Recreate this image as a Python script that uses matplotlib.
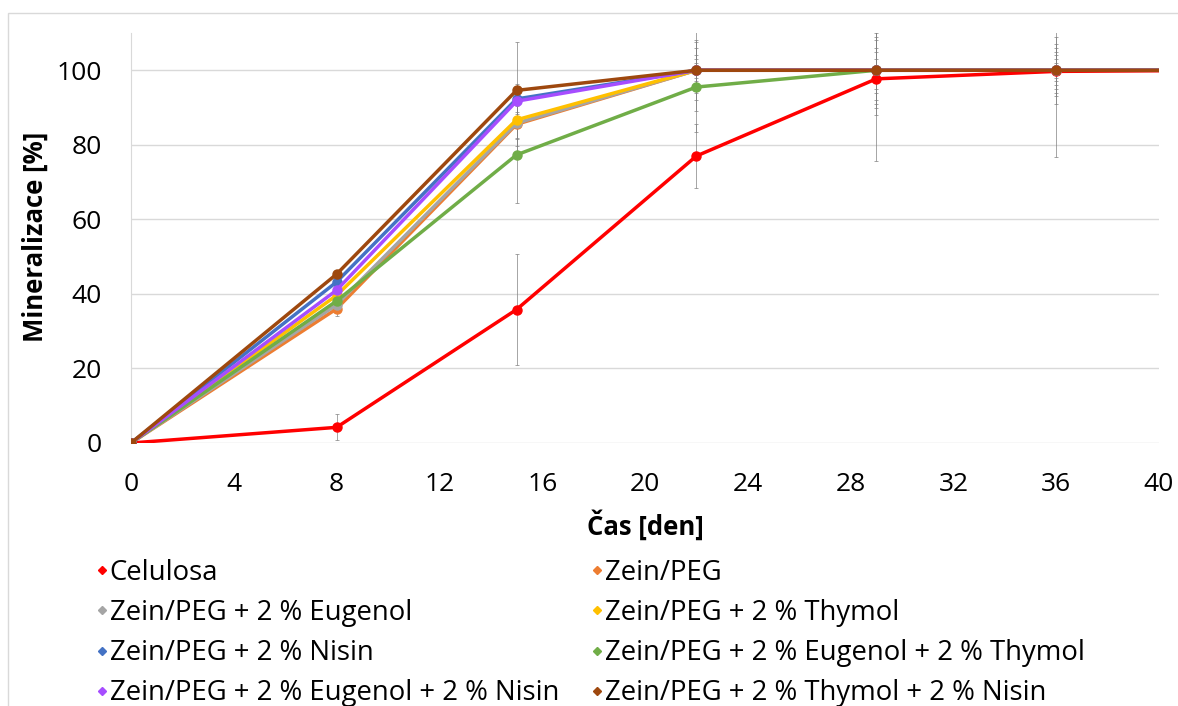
import matplotlib
matplotlib.use("Agg")
import matplotlib.pyplot as plt
from matplotlib.lines import Line2D
from matplotlib.patches import Rectangle

plt.rcParams['font.family'] = ['Open Sans', 'DejaVu Sans']

days = [0, 8, 15, 22, 29, 36, 43]
names = ["Celulosa", "Zein/PEG", "Zein/PEG + 2 % Eugenol", "Zein/PEG + 2 % Thymol",
         "Zein/PEG + 2 % Nisin", "Zein/PEG + 2 % Eugenol + 2 % Thymol",
         "Zein/PEG + 2 % Eugenol + 2 % Nisin", "Zein/PEG + 2 % Thymol + 2 % Nisin"]
colors = ["#FF0000", "#ED7D31", "#A5A5A5", "#FFC000", "#4472C4", "#70AD47", "#A64DFF", "#9E480E"]

celulosa = [0, 4.2, 35.8, 77.0, 97.7, 99.7, 100]
zein_peg = [0, 36.0, 85.5, 100, 100, 100, 100]
eugenol = [0, 37.1, 85.8, 100, 100, 100, 100]
thymol = [0, 39.6, 86.7, 100, 100, 100, 100]
nisin = [0, 43.2, 92.3, 100, 100, 100, 100]
eug_thy = [0, 38.1, 77.3, 95.5, 100, 100, 100]
eug_nis = [0, 41.0, 91.7, 100, 100, 100, 100]
thy_nis = [0, 45.3, 94.6, 100, 100, 100, 100]

err_celulosa = [0, 3.5, 15.0, 8.5, 22.0, 23.0, 0]
err_zein_peg = [0, 2.0, 8.0, 6.0, 5.0, 4.0, 0]
err_eugenol = [0, 1.5, 6.0, 4.0, 8.0, 6.0, 0]
err_thymol = [0, 1.5, 5.0, 8.0, 9.0, 5.0, 0]
err_nisin = [0, 1.0, 4.0, 3.0, 3.0, 2.0, 0]
err_eug_thy = [0, 2.5, 13.0, 12.0, 10.0, 7.0, 0]
err_eug_nis = [0, 1.0, 3.0, 2.0, 6.0, 3.0, 0]
err_thy_nis = [0, 1.0, 13.0, 11.0, 12.0, 9.0, 0]

series = [celulosa, zein_peg, eugenol, thymol, nisin, eug_thy, eug_nis, thy_nis]
errors = [err_celulosa, err_zein_peg, err_eugenol, err_thymol, err_nisin, err_eug_thy, err_eug_nis, err_thy_nis]

fig = plt.figure(figsize=(11.78, 7.06), dpi=100)
fig.patches.append(Rectangle((8/1178, -0.01), 1.02, 1 - 13/706 + 0.01, transform=fig.transFigure,
                             fill=False, edgecolor="#D9D9D9", linewidth=1.0, zorder=0))
ax = fig.add_axes([131/1178, 1 - 443/706, (1159-131)/1178, (443-33)/706])

for vals, errs in zip(series, errors):
    ax.errorbar(days, vals, yerr=errs, fmt='none', ecolor='#7F7F7F', elinewidth=0.7,
                capsize=1.5, capthick=0.7, alpha=0.7, zorder=2, clip_on=True)

for vals, c, n in zip(series, colors, names):
    ax.plot(days, vals, color=c, linewidth=2.5, marker='o', markersize=6.5, label=n, zorder=3)

ax.set_xlim(0, 40)
ax.set_ylim(0, 110)
ax.set_xticks(range(0, 41, 4))
ax.set_yticks(range(0, 101, 20))
ax.tick_params(axis='both', length=0, labelsize=19)
ax.tick_params(axis='x', pad=21)
ax.tick_params(axis='y', pad=21)
ax.grid(axis='y', color='#D9D9D9', linewidth=1.0)
ax.set_axisbelow(True)
for s in ['top', 'right', 'bottom']:
    ax.spines[s].set_visible(False)
ax.spines['left'].set_color('#D9D9D9')
ax.set_xlabel("Čas [den]", fontsize=18.5, fontweight='bold', va='center')
ax.xaxis.set_label_coords((645-131)/1028, (443-525)/410)
ax.set_ylabel("Mineralizace [%]", fontsize=18.5, fontweight='bold', va='center')
ax.yaxis.set_label_coords((35-131)/1028, (443-237)/410)

order = [0, 2, 4, 6, 1, 3, 5, 7]
handles = [Line2D([], [], linestyle='none', marker='D', markersize=4, color=colors[i]) for i in order]
labels = [names[i] for i in order]
fig.legend(handles, labels, loc='upper left', bbox_to_anchor=(96/1178, 1 - 559/706), ncol=2,
           frameon=False, fontsize=19.8, handlelength=0.4, handletextpad=0.1,
           columnspacing=1.18, labelspacing=0.44, borderaxespad=0, borderpad=0)

fig.savefig("out.png", dpi=100)
